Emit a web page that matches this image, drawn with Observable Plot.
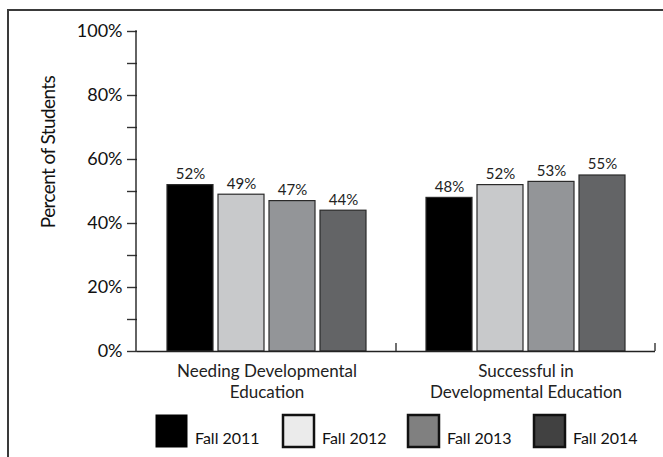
<!DOCTYPE html>
<html>
<head>
<meta charset="utf-8">
<script src="https://cdn.jsdelivr.net/npm/d3@7"></script>
<script src="https://cdn.jsdelivr.net/npm/@observablehq/plot@0.6"></script>
<style>
  html, body { margin: 0; padding: 0; background: #fff; }
  #chart { position: relative; width: 663px; height: 457px; overflow: hidden; }
  svg { font-family: Lato, "Open Sans", sans-serif; }
</style>
</head>
<body>
<div id="chart"></div>
<script>
const categories = ["Needing Developmental\nEducation", "Successful in\nDevelopmental Education"];
const years = ["Fall 2011", "Fall 2012", "Fall 2013", "Fall 2014"];
const needingValues = [52, 49, 47, 44];
const successfulValues = [48, 52, 53, 55];
const barColors = ["#000000", "#c8c9cb", "#939598", "#636466"];
const legendColors = ["#000000", "#ebebeb", "#808080", "#414141"];
const yTicks = [0, 10, 20, 30, 40, 50, 60, 70, 80, 90, 100];

const data = [];
years.forEach((yr, i) => {
  data.push({category: categories[0], year: yr, value: needingValues[i]});
  data.push({category: categories[1], year: yr, value: successfulValues[i]});
});

const W = 663, H = 457;
const plot = Plot.plot({
  width: W,
  height: H,
  marginLeft: 136,
  marginRight: 8,
  marginTop: 31,
  marginBottom: 106,
  style: {fontFamily: "Lato, 'Open Sans', sans-serif", fontSize: "15px", color: "#222", background: "transparent"},
  fx: {domain: categories, padding: 0, label: null},
  x: {domain: years, paddingInner: 0.096, paddingOuter: 0.543, axis: null},
  y: {domain: [0, 100], label: null},
  color: {domain: years, range: barColors},
  marks: [
    Plot.axisY({
      ticks: yTicks,
      tickSize: 10,
      tickPadding: 5,
      tickFormat: d => d % 20 === 0 ? d + "%" : "",
      fontSize: 18,
      stroke: "#333",
      strokeWidth: 1.4,
      color: "#111"
    }),
    Plot.axisFx({
      anchor: "bottom",
      tickSize: 0,
      tickPadding: 10,
      fontSize: 17,
      lineHeight: 1.25,
      label: null,
      fill: "#222"
    }),
    Plot.barY(data, {
      fx: "category",
      x: "year",
      y: "value",
      fill: "year",
      stroke: "#2a2a2a",
      strokeWidth: 1.2
    }),
    Plot.text(data, {
      fx: "category",
      x: "year",
      y: "value",
      text: d => d.value + "%",
      dy: -11,
      fontSize: 15,
      fill: "#222"
    }),
    Plot.ruleY([0], {stroke: "#222", strokeWidth: 1.4})
  ]
});

document.getElementById("chart").appendChild(plot);

// Extra decorations via library scales
const svg = d3.select(plot);
const fx = plot.scale("fx");
const y = plot.scale("y");
const yTop = y.apply(100), yBot = y.apply(0);
const left = 136;

// outer frame (cropped on right and bottom)
svg.insert("rect", ":first-child")
  .attr("x", 8).attr("y", 10)
  .attr("width", 800).attr("height", 600)
  .attr("fill", "none").attr("stroke", "#3a3a3a").attr("stroke-width", 2);

// y axis line
svg.append("line")
  .attr("x1", left).attr("x2", left)
  .attr("y1", yTop - 0.7).attr("y2", yBot)
  .attr("stroke", "#222").attr("stroke-width", 1.4);

// category boundary ticks
categories.forEach(c => {
  const xr = fx.apply(c) + fx.bandwidth;
  svg.append("line")
    .attr("x1", xr).attr("x2", xr)
    .attr("y1", yBot - 8).attr("y2", yBot)
    .attr("stroke", "#333").attr("stroke-width", 1.4);
});

// y axis label
svg.append("text")
  .attr("transform", `translate(47,${(yTop + yBot) / 2 - 39}) rotate(-90)`)
  .attr("text-anchor", "middle")
  .attr("dominant-baseline", "central")
  .attr("font-size", 19)
  .attr("letter-spacing", -0.6)
  .attr("fill", "#111")
  .text("Percent of Students");

// legend
const legendX = [155, 282, 407, 533];
const lg = svg.append("g").attr("text-anchor", "start");
years.forEach((yr, i) => {
  const g = lg.append("g");
  g.append("rect")
    .attr("x", legendX[i] + 1).attr("y", 415)
    .attr("width", 31).attr("height", 32)
    .attr("fill", legendColors[i])
    .attr("stroke", i === 0 ? "#000" : "#111")
    .attr("stroke-width", i === 0 ? 1 : 2.5);
  g.append("text")
    .attr("x", legendX[i] + 40).attr("y", 444)
    .attr("text-anchor", "start")
    .attr("font-size", 16)
    .attr("fill", "#111")
    .text(yr);
});
</script>
</body>
</html>
